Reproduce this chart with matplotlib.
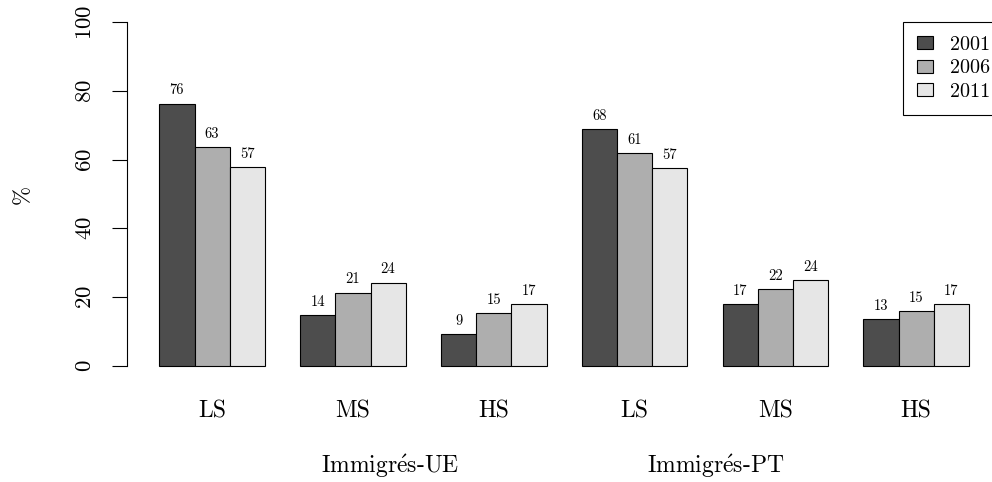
import numpy as np
import matplotlib
matplotlib.use("Agg")
import matplotlib.pyplot as plt
from matplotlib.patches import Patch

plt.rcParams['font.family'] = ['cmr10', 'DejaVu Serif']
plt.rcParams['mathtext.fontset'] = 'cm'
plt.rcParams['axes.formatter.use_mathtext'] = True

years = ["2001", "2006", "2011"]
levels = ["LS", "MS", "HS", "LS", "MS", "HS"]
groups = [r"Immigr$\acute{\mathrm{e}}$s-UE", r"Immigr$\acute{\mathrm{e}}$s-PT"]
# share per skill level (rows = year, columns = cluster)
values = np.array([
    [76.3, 14.7, 9.2, 68.8, 17.9, 13.7],
    [63.6, 21.3, 15.4, 61.9, 22.4, 15.9],
    [57.9, 24.2, 17.9, 57.5, 24.9, 17.9],
])
colors = ["#4D4D4D", "#AEAEAE", "#E6E6E6"]

W, H = 992, 482
fig = plt.figure(figsize=(W / 100, H / 100), dpi=100)
ax = fig.add_axes([0, 0, 1, 1])

# pixel geometry of the original R plot
u0, upx = 124.1, 35.2      # x pixel of unit 0, pixels per unit
y0, ypx = 366.0, 3.44      # y pixel of value 0, pixels per unit
ax.set_xlim((0 - u0) / upx, (W - u0) / upx)
ax.set_ylim((y0 - H) / ypx, y0 / ypx)

for i, yr in enumerate(years):
    for c in range(len(levels)):
        left = 1 + 4 * c + i
        v = values[i, c]
        ax.bar(left, v, width=1, align='edge', color=colors[i],
               edgecolor='black', linewidth=0.8)
        ax.text(left + 0.5, v + 2.7, f"{int(v)}", ha='center',
                va='baseline', fontsize=10.5)

for c, lab in enumerate(levels):
    ax.text(4 * c + 2.5, -15.1, lab, ha='center', va='baseline', fontsize=17)

ax.text(7.55, -31.1, groups[0], ha='center', va='baseline', fontsize=17)
ax.text(16.8, -31.1, groups[1], ha='center', va='baseline', fontsize=17)

ax.text((23 - u0) / upx, 50, "%", rotation=90, ha='center', va='center',
        fontsize=16.5)

for s in ['top', 'right', 'bottom']:
    ax.spines[s].set_visible(False)
ax.spines['left'].set_position(('data', (127 - u0) / upx))
ax.spines['left'].set_bounds(0, 100)
ax.spines['left'].set_linewidth(0.8)
ax.set_yticks(np.arange(0, 101, 20))
ax.tick_params(axis='y', length=11, width=0.8, pad=12, labelsize=16.5,
               labelrotation=90)
for t in ax.get_yticklabels():
    t.set_va('center')
ax.set_xticks([])

handles = [Patch(facecolor=colors[i], edgecolor='black', linewidth=0.8,
                 label=years[i]) for i in range(3)]
leg = fig.legend(handles=handles, loc='upper left',
                 bbox_to_anchor=(902.7 / W, 1 - 21.7 / H), borderaxespad=0,
                 fancybox=False, edgecolor='black', fontsize=14.5,
                 handlelength=0.78, handleheight=0.6, handletextpad=0.85,
                 labelspacing=0.28, borderpad=0.7, framealpha=1)
leg.get_frame().set_linewidth(0.8)

fig.savefig("out.png", dpi=100)
